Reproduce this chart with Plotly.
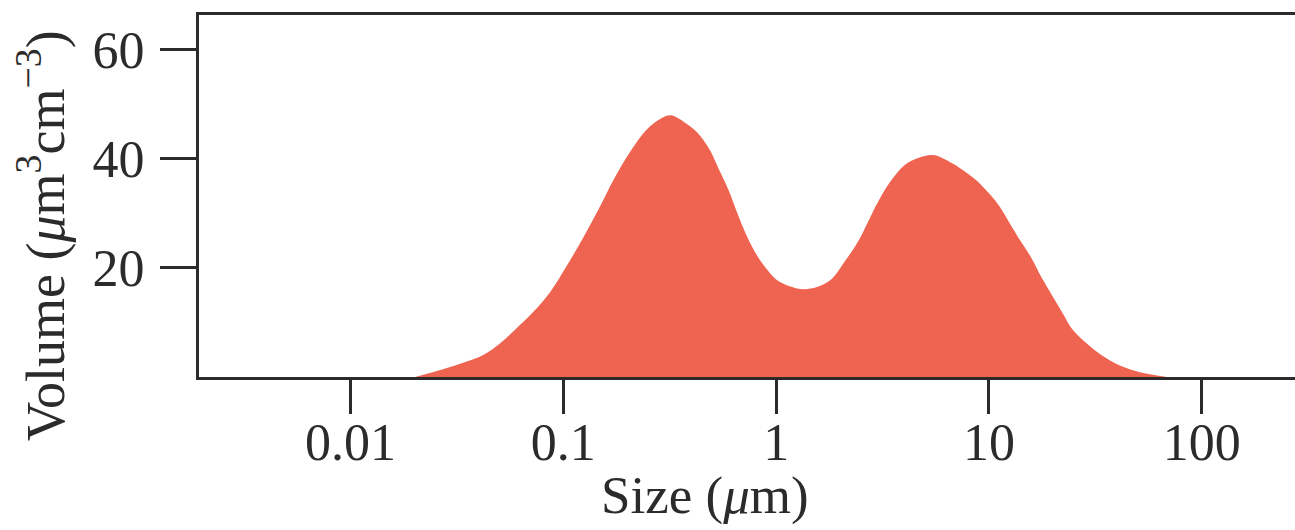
import plotly.graph_objects as go

# Size (um) and volume (um^3 cm^-3)
size_um = [0.0201, 0.0291, 0.0418, 0.0502, 0.0598, 0.0721, 0.0868, 0.1031, 0.1230,
           0.1466, 0.173, 0.206, 0.2455, 0.290, 0.321, 0.3715, 0.425, 0.485, 0.538,
           0.597, 0.662, 0.733, 0.813, 0.902, 1.0, 1.167, 1.346, 1.554, 1.812,
           2.092, 2.414, 2.696, 3.008, 3.51, 4.05, 4.68, 5.45, 6.51, 7.59, 8.77,
           10.1, 11.3, 12.65, 14.2, 15.85, 17.7, 19.9, 22.2, 24.8, 29.1, 33.6,
           40.7, 48.8, 59.0, 68.2]
volume = [0.0, 1.8, 4.0, 6.1, 8.8, 11.9, 15.6, 20.2, 25.3,
          30.8, 36.3, 41.3, 45.3, 47.5, 48.0, 46.7, 44.9, 41.8, 38.1,
          34.3, 29.7, 25.6, 22.3, 19.8, 17.9, 16.6, 16.1, 16.5, 17.9,
          21.1, 24.7, 28.4, 32.1, 36.3, 39.0, 40.2, 40.7, 39.5, 37.9, 36.0,
          33.5, 31.1, 27.9, 24.7, 21.8, 18.2, 14.8, 11.7, 8.6, 6.0, 4.1,
          2.2, 1.1, 0.4, 0.0]

x_tickvals = [0.01, 0.1, 1, 10, 100]
x_ticktext = ["0.01", "0.1", "1", "10", "100"]
y_tickvals = [20, 40, 60]
y_ticktext = ["20", "40", "60"]

FONT = "Liberation Serif"
INK = "#2b2b2b"
FILL = "#EF6450"

# Page body margin is removed (post_script), so the figure fills the window.
W, H = 1295, 530
PL, PR, PT, PB = 199, 1295, 15, 377   # plot area in window pixels
PW, PH = PR - PL, PB - PT

fig = go.Figure()
fig.add_trace(go.Scatter(
    x=size_um, y=volume, mode="lines",
    line=dict(shape="spline", smoothing=1.0, width=0, color=FILL),
    fill="tozeroy", fillcolor=FILL, hoverinfo="skip", showlegend=False,
))

fig.update_layout(
    width=W, height=H,
    margin=dict(l=PL, r=W - PR, t=PT, b=H - PB, pad=0),
    paper_bgcolor="white", plot_bgcolor="white",
    font=dict(family=FONT, size=52, color=INK),
    xaxis=dict(
        type="log", range=[-2.712, 2.438],
        tickvals=x_tickvals, ticktext=x_ticktext,
        ticks="outside", ticklen=34, tickwidth=3, tickcolor=INK,
        ticklabelstandoff=-16,
        showline=True, linewidth=3, linecolor=INK, mirror=True,
        showgrid=False, zeroline=False, automargin=False,
        tickfont=dict(family=FONT, size=52, color=INK),
    ),
    yaxis=dict(
        range=[0, 66.4],
        tickvals=y_tickvals, ticktext=y_ticktext,
        ticks="outside", ticklen=36, tickwidth=3, tickcolor=INK,
        ticklabelstandoff=5,
        showline=True, linewidth=3, linecolor=INK,
        showgrid=False, zeroline=False, automargin=False,
        tickfont=dict(family=FONT, size=52, color=INK),
    ),
    annotations=[
        dict(text="Size (<i>μ</i>m)", xref="paper", yref="paper",
             x=(705 - PL) / PW, y=-(496 - PB) / PH,
             xanchor="center", yanchor="middle", showarrow=False,
             font=dict(family=FONT, size=53, color=INK)),
        dict(text="Volume (<i>μ</i>m<sup>3</sup>cm<sup>−3</sup>)", xref="paper", yref="paper",
             x=-(PL - 42) / PW, y=(PB - 236) / PH,
             xanchor="center", yanchor="middle", textangle=-90, showarrow=False,
             font=dict(family=FONT, size=54, color=INK)),
    ],
)

fig.write_html(
    "out.html",
    config={"displayModeBar": False, "staticPlot": True},
    post_script="document.documentElement.style.overflow='hidden';"
                "document.body.style.overflow='hidden';"
                "document.body.style.margin='0';",
)
